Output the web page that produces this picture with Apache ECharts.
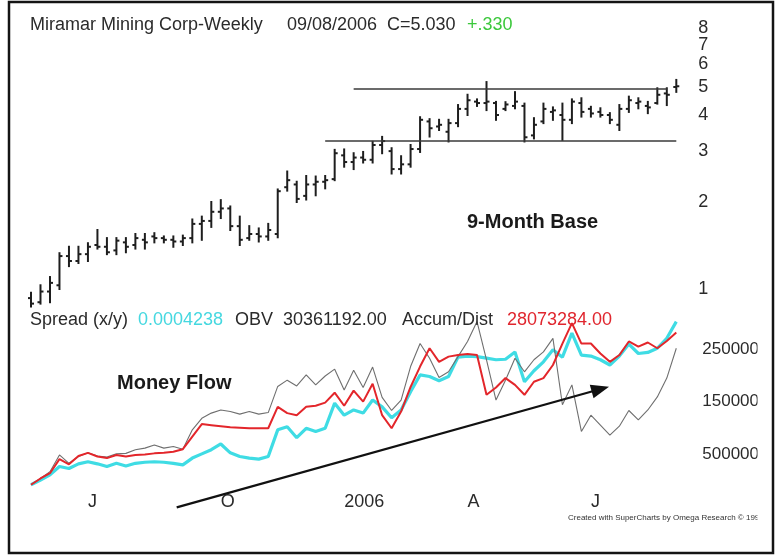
<!DOCTYPE html>
<html>
<head>
<meta charset="utf-8">
<title>Miramar Mining Corp-Weekly</title>
<script src="https://cdn.jsdelivr.net/npm/echarts@6/dist/echarts.min.js"></script>
<style>
  html, body { margin: 0; padding: 0; background: #fff; }
  #chart { width: 778px; height: 556px; }
</style>
</head>
<body>
<div id="chart"></div>
<script>
// weekly bars, Friday dates
const weeks = [
  '05/20/05','05/27/05','06/03/05','06/10/05','06/17/05','06/24/05','07/01/05','07/08/05','07/15/05','07/22/05',
  '07/29/05','08/05/05','08/12/05','08/19/05','08/26/05','09/02/05','09/09/05','09/16/05','09/23/05','09/30/05',
  '10/07/05','10/14/05','10/21/05','10/28/05','11/04/05','11/11/05','11/18/05','11/25/05','12/02/05','12/09/05',
  '12/16/05','12/23/05','12/30/05','01/06/06','01/13/06','01/20/06','01/27/06','02/03/06','02/10/06','02/17/06',
  '02/24/06','03/03/06','03/10/06','03/17/06','03/24/06','03/31/06','04/07/06','04/14/06','04/21/06','04/28/06',
  '05/05/06','05/12/06','05/19/06','05/26/06','06/02/06','06/09/06','06/16/06','06/23/06','06/30/06','07/07/06',
  '07/14/06','07/21/06','07/28/06','08/04/06','08/11/06','08/18/06','08/25/06','09/01/06','09/08/06'
];

const open = [0.93,0.90,0.98,1.03,1.30,1.25,1.32,1.42,1.40,1.36, 1.45,1.42,1.48,1.52,1.50,1.48,1.46,1.50,1.68,1.72,
  1.85,1.90,1.65,1.50,1.55,1.52,1.55,2.25,2.30,2.10, 2.30,2.35,2.40,2.90,2.75,2.85,2.80,3.15,3.00,2.60,
  2.70,3.05,3.80,3.65,3.50,3.75,4.20,4.45,4.40,4.40, 4.20,4.30,4.30,3.40,3.80,4.10,4.00,3.85,4.40,4.20,
  4.10,4.00,3.70,4.20,4.40,4.30,4.40,4.75,5.00];
const high = [0.97,1.03,1.10,1.33,1.40,1.40,1.44,1.60,1.50,1.50, 1.50,1.55,1.55,1.56,1.52,1.52,1.53,1.74,1.78,2.00,
  2.03,1.93,1.78,1.65,1.62,1.68,2.21,2.55,2.35,2.46, 2.45,2.46,3.03,3.04,2.95,2.98,3.23,3.36,3.07,2.88,
  3.15,3.93,3.87,3.85,3.85,4.33,4.70,4.53,5.20,4.44, 4.43,4.80,4.38,3.90,4.38,4.25,4.38,4.53,4.57,4.27,
  4.22,4.06,4.33,4.63,4.57,4.44,4.95,4.95,5.29];
const low = [0.87,0.89,0.90,1.00,1.20,1.23,1.25,1.38,1.32,1.32, 1.34,1.38,1.38,1.45,1.45,1.40,1.42,1.45,1.48,1.64,
  1.76,1.60,1.42,1.48,1.46,1.48,1.51,2.19,2.00,2.04, 2.11,2.23,2.38,2.65,2.60,2.74,2.74,2.95,2.51,2.51,
  2.65,2.98,3.37,3.55,3.24,3.66,4.00,4.30,4.16,3.85, 4.16,4.22,3.24,3.32,3.75,3.85,3.28,3.75,3.95,3.95,
  3.95,3.75,3.55,4.10,4.22,4.06,4.38,4.33,4.81];
const close = [0.89,0.98,1.05,1.30,1.25,1.32,1.40,1.40,1.34,1.47, 1.40,1.50,1.45,1.50,1.48,1.46,1.50,1.68,1.72,1.85,
  1.90,1.65,1.48,1.55,1.52,1.60,2.18,2.38,2.05,2.30, 2.35,2.38,2.95,2.75,2.85,2.80,3.15,3.25,2.60,2.70,
  3.05,3.85,3.60,3.70,3.75,4.20,4.50,4.40,4.45,4.00, 4.35,4.45,3.35,3.70,4.20,4.15,3.85,4.45,4.10,4.05,
  4.00,3.85,4.20,4.50,4.45,4.25,4.70,4.70,5.03];

// money flow panel, in millions on the panel scale
const spread = [-0.9,0.0,1.0,2.6,2.2,3.1,3.5,3.1,2.6,3.2, 2.7,3.2,3.4,3.5,3.4,3.2,2.9,4.2,5.0,5.8,
  6.9,5.2,4.5,4.2,4.0,4.5,9.6,10.2,8.1,9.9, 9.3,9.9,14.7,12.4,13.4,12.8,15.3,14.0,11.9,13.4,
  16.9,20.1,19.8,19.0,19.8,23.5,23.7,23.6,23.3,23.0, 23.1,24.5,18.8,20.9,22.6,24.9,23.5,28.1,23.9,23.7,
  23.0,22.0,23.7,26.0,24.2,24.4,25.2,27.1,30.3];
const obv = [-0.9,0.3,1.6,4.8,3.2,4.5,5.2,4.6,4.4,5.0, 5.1,5.8,6.1,6.7,6.1,6.4,5.9,9.6,11.8,12.8,
  13.4,13.1,12.6,13.1,12.6,12.9,17.9,19.1,18.0,20.1, 18.2,19.9,21.2,17.2,21.0,17.7,21.6,15.8,13.3,15.3,
  21.7,26.1,23.3,19.6,20.7,23.6,26.5,30.3,23.0,15.3, 19.1,23.3,20.7,23.0,24.5,27.1,14.4,18.2,9.3,12.4,
  10.5,8.6,10.3,13.3,11.5,13.4,15.9,19.5,25.2];
const accumDist = [-0.9,0.3,1.3,4.0,3.0,4.6,5.2,4.5,4.2,4.8, 4.5,4.8,4.9,5.1,5.2,5.4,5.9,8.3,10.7,10.5,
  10.3,10.1,10.0,9.9,9.9,9.9,14.0,12.8,12.4,14.0, 14.2,14.8,16.7,14.2,17.1,15.0,18.4,12.4,9.9,13.1,
  17.8,21.7,25.2,22.6,23.6,23.9,24.1,23.9,16.3,17.7, 19.5,18.2,16.3,18.8,19.5,22.0,26.1,30.0,26.1,26.1,
  24.2,22.6,23.9,26.5,25.5,26.3,25.2,26.6,28.2];

const priceTicks = [1, 2, 3, 4, 5, 6, 8];
const priceTicksExtra = [7];
const flowTicks = [5, 15, 25];
const monthTickIdx = [6, 20, 33, 46, 59];
const monthTickText = ['J', 'O', '2006', 'A', 'J'];

// 9-month base: support / resistance (start week, end week, price)
const baseLines = [
  { from: 31, to: 68, price: 3.25 },
  { from: 34, to: 67, price: 4.92 }
];

const FONT = '"Liberation Sans", Arial, sans-serif';
const INK = '#2b2b2b';

const ohlc = weeks.map((w, i) => [i, open[i], high[i], low[i], close[i]]);

function renderBar(params, api) {
  const i = api.value(0);
  const o = api.coord([i, api.value(1)]);
  const h = api.coord([i, api.value(2)]);
  const l = api.coord([i, api.value(3)]);
  const c = api.coord([i, api.value(4)]);
  const t = 3;
  const st = { stroke: '#1e1e1e', lineWidth: 2 };
  return {
    type: 'group',
    children: [
      { type: 'line', shape: { x1: h[0], y1: h[1] - 1, x2: l[0], y2: l[1] + 1 }, style: st },
      { type: 'line', shape: { x1: o[0] - t, y1: o[1], x2: o[0], y2: o[1] }, style: st },
      { type: 'line', shape: { x1: c[0], y1: c[1], x2: c[0] + t, y2: c[1] }, style: st }
    ]
  };
}

function txt(text, x, y, size, color, weight) {
  return {
    type: 'text', x: x, y: y, z: 50,
    style: {
      text: text, fill: color || INK, fontSize: size, fontFamily: FONT,
      fontWeight: weight || 'normal', verticalAlign: 'middle', align: 'left'
    }
  };
}

function priceAxis(ticks) {
  return {
    type: 'log', logBase: 10, gridIndex: 0, position: 'right', offset: 0,
    min: 0.8459, max: 8.874,
    axisLine: { show: false }, axisTick: { show: false }, splitLine: { show: false },
    axisLabel: {
      customValues: ticks, margin: 22, fontSize: 18, lineHeight: 11, fontFamily: FONT, color: INK,
      hideOverlap: false, showMinLabel: true, showMaxLabel: true
    }
  };
}

// arrow of the money flow trend
const ax1 = 176.7, ay1 = 507.3, ax2 = 609, ay2 = 386.7;
const len = Math.hypot(ax2 - ax1, ay2 - ay1);
const ux = (ax2 - ax1) / len, uy = (ay2 - ay1) / len;
const bx = ax2 - 18 * ux, by = ay2 - 18 * uy;

const chart = echarts.init(document.getElementById('chart'));

const option = {
  animation: false,
  backgroundColor: '#fff',
  grid: [
    { left: 31, width: 645.3, top: 15, height: 295, outerBoundsMode: 'none' },
    { left: 31, width: 645.3, top: 312.7, height: 177.8, outerBoundsMode: 'none' }
  ],
  xAxis: [
    {
      type: 'category', gridIndex: 0, data: weeks, boundaryGap: false,
      axisLine: { show: false }, axisTick: { show: false }, axisLabel: { show: false }, splitLine: { show: false }
    },
    {
      type: 'category', gridIndex: 1, data: weeks, boundaryGap: false,
      axisLine: { show: false }, axisTick: { show: false }, splitLine: { show: false },
      axisLabel: {
        interval: (idx) => monthTickIdx.indexOf(idx) >= 0,
        formatter: (val, idx) => {
          const k = monthTickIdx.indexOf(idx);
          return k >= 0 ? monthTickText[k] : '';
        },
        align: 'left', margin: 3, fontSize: 18, fontFamily: FONT, color: INK, hideOverlap: false
      }
    }
  ],
  yAxis: [
    priceAxis(priceTicks),
    {
      type: 'value', gridIndex: 1, position: 'right', min: -2, max: 32,
      axisLine: { show: false }, axisTick: { show: false }, splitLine: { show: false },
      axisLabel: {
        customValues: flowTicks, margin: 26, fontSize: 17, fontFamily: FONT, color: INK,
        hideOverlap: false,
        formatter: (v) => String(Math.round(v * 1000000))
      }
    },
    priceAxis(priceTicksExtra)
  ],
  series: [
    {
      name: 'Price', type: 'custom', xAxisIndex: 0, yAxisIndex: 0,
      renderItem: renderBar, encode: { x: 0, y: [1, 2, 3, 4] }, data: ohlc, clip: false
    },
    ...baseLines.map((b) => ({
      type: 'line', xAxisIndex: 0, yAxisIndex: 0, symbol: 'none', silent: true,
      lineStyle: { color: '#3a3a3a', width: 1.6 },
      data: [[b.from, b.price], [b.to, b.price]]
    })),
    {
      name: 'Spread (x/y)', type: 'line', xAxisIndex: 1, yAxisIndex: 1, symbol: 'none',
      lineStyle: { color: '#3fdce4', width: 3.2 }, data: spread
    },
    {
      name: 'OBV', type: 'line', xAxisIndex: 1, yAxisIndex: 1, symbol: 'none',
      lineStyle: { color: '#6f6f6f', width: 1.1 }, data: obv
    },
    {
      name: 'Accum/Dist', type: 'line', xAxisIndex: 1, yAxisIndex: 1, symbol: 'none',
      lineStyle: { color: '#e3262b', width: 2 }, data: accumDist
    }
  ],
  graphic: [
    txt('Miramar Mining Corp-Weekly', 30, 25, 18),
    txt('09/08/2006', 287, 25, 18),
    txt('C=5.030', 387, 25, 18),
    txt('+.330', 467, 25, 18, '#3cc83c'),
    txt('9-Month Base', 467, 222, 20, '#1a1a1a', 'bold'),
    txt('Spread (x/y)', 30, 320, 18),
    txt('0.0004238', 138, 320, 18, '#45d8e0'),
    txt('OBV', 235, 320, 18),
    txt('30361192.00', 283, 320, 18),
    txt('Accum/Dist', 402, 320, 18),
    txt('28073284.00', 507, 320, 18, '#e0262e'),
    txt('Money Flow', 117, 383, 20, '#1a1a1a', 'bold'),
    txt('Created with SuperCharts by Omega Research \u00a9 1997', 568, 518, 8, '#333'),
    {
      type: 'line', z: 60,
      shape: { x1: ax1, y1: ay1, x2: bx + 2 * ux, y2: by + 2 * uy },
      style: { stroke: '#111', lineWidth: 2.3 }
    },
    {
      type: 'polygon', z: 60,
      shape: { points: [[ax2, ay2], [bx - 7 * uy, by + 7 * ux], [bx + 7 * uy, by - 7 * ux]] },
      style: { fill: '#111' }
    },
    {
      type: 'rect', z: 100,
      shape: { x: 757.5, y: 295, width: 21, height: 240 },
      style: { fill: '#fff' }
    },
    {
      type: 'rect', z: 101,
      shape: { x: 9, y: 2, width: 764, height: 551 },
      style: { fill: 'none', stroke: '#141414', lineWidth: 2.5 }
    }
  ]
};

chart.setOption(option);
</script>
</body>
</html>
